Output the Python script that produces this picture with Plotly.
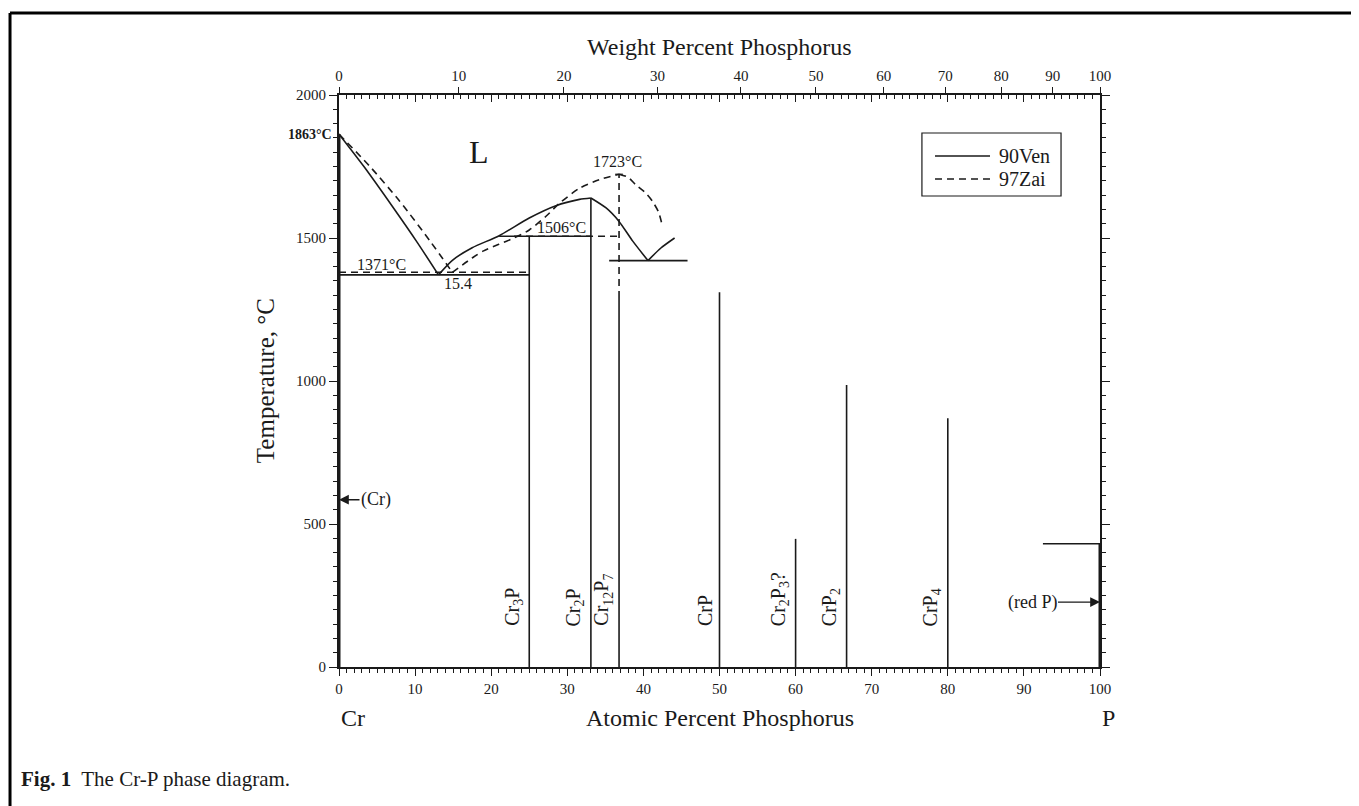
import plotly.graph_objects as go

# ---------------- data ----------------
MW_P, MW_CR = 30.974, 51.996
wt_ticks = [0, 10, 20, 30, 40, 50, 60, 70, 80, 90, 100]

# 90Ven (solid)
liq_cr_90_x = [0, 3.3, 7.0, 10.3, 13.07]
liq_cr_90_T = [1863, 1749, 1611, 1484, 1371]
liq_mid_90_x = [13.07, 14.9, 17.5, 21.05, 25, 28.5, 31.6, 33.1]
liq_mid_90_T = [1371, 1422, 1466, 1508, 1570, 1613, 1635, 1640]
liq_desc_90_x = [33.1, 35.1, 36.8, 38.6, 40.6]
liq_desc_90_T = [1640, 1605, 1558, 1489, 1421]
liq_rise_90_x = [40.6, 42.3, 44.1]
liq_rise_90_T = [1421, 1465, 1500]

# 97Zai (dashed)
liq_cr_97_x = [0, 4.0, 8.0, 12.0, 14.9]
liq_cr_97_T = [1863, 1752, 1628, 1488, 1380]
liq_mid_97_x = [14.9, 17.5, 19, 21, 23, 25, 27.2, 29, 31.6, 34.2, 36.8]
liq_mid_97_T = [1380, 1430, 1455, 1478, 1500, 1528, 1576, 1622, 1674, 1704, 1723]
liq_desc_97_x = [36.8, 38.0, 39.0, 40.2, 41.2, 42.0, 42.5]
liq_desc_97_T = [1723, 1712, 1686, 1660, 1628, 1590, 1541]

# invariant horizontals
eut1_90_x, eut1_90_T = [0, 25], 1371
eut1_97_x, eut1_97_T = [0, 25], 1380
per_90_x, per_90_T = [21.05, 33.1], 1506
per_97_x, per_97_T = [23, 36.8], 1506
eut2_90_x, eut2_90_T = [35.5, 45.8], 1421
redP_x, redP_T = [92.5, 100], 431
cong_97_x, cong_97_T = [36.3, 37.3], 1723

# compounds
comp_x = [25, 33.1, 36.8, 50, 60, 66.7, 80]
comp_top = [1506, 1640, 1290, 1310, 448, 986, 870]
comp_labels = ["Cr<sub>3</sub>P", "Cr<sub>2</sub>P", "Cr<sub>12</sub>P<sub>7</sub>", "CrP",
               "Cr<sub>2</sub>P<sub>3</sub>?", "CrP<sub>2</sub>", "CrP<sub>4</sub>"]
cr12p7_dash_T = [1290, 1723]
cr_melt = 1863
legend_names = ["90Ven", "97Zai"]


def wt_to_at(w):
    a = w / MW_P
    b = (100 - w) / MW_CR
    return 100 * a / (a + b)


FONT = "Liberation Serif"
BLACK = "#1a1a1a"
DASH = "7px,5px"

fig = go.Figure()


def add_line(x, y, dash=None, width=1.6, spline=False):
    fig.add_trace(go.Scatter(
        x=x, y=y, mode="lines",
        line=dict(color=BLACK, width=width, dash=dash or "solid",
                  shape="spline" if spline else "linear", smoothing=0.7),
        hoverinfo="skip", showlegend=False,
    ))


add_line(liq_cr_90_x, liq_cr_90_T, spline=True)
add_line(liq_cr_97_x, liq_cr_97_T, dash=DASH, spline=True)
add_line(liq_mid_90_x, liq_mid_90_T, spline=True)
add_line(liq_desc_90_x, liq_desc_90_T, spline=True)
add_line(liq_rise_90_x, liq_rise_90_T, spline=True)
add_line(liq_mid_97_x, liq_mid_97_T, dash=DASH, spline=True)
add_line(liq_desc_97_x, liq_desc_97_T, dash=DASH, spline=True)

add_line(eut1_97_x, [eut1_97_T] * 2, dash=DASH)
add_line(eut1_90_x, [eut1_90_T] * 2)
add_line(per_97_x, [per_97_T] * 2, dash=DASH)
add_line(per_90_x, [per_90_T] * 2)
add_line(eut2_90_x, [eut2_90_T] * 2)
add_line(redP_x, [redP_T] * 2)
add_line(cong_97_x, [cong_97_T] * 2, width=1.2)

for cx, ct in zip(comp_x, comp_top):
    add_line([cx, cx], [0, ct])
add_line([comp_x[2], comp_x[2]], cr12p7_dash_T, dash=DASH)

# pure elements
add_line([0, 0], [0, cr_melt], width=3)
add_line([100, 100], [0, redP_T], width=3)

# invisible traces for top axes
for ax in ["x2", "x3"]:
    fig.add_trace(go.Scatter(x=[0, 100], y=[0, 0], xaxis=ax, mode="markers",
                             marker=dict(opacity=0), hoverinfo="skip", showlegend=False))

ann = []
for cx, lab in zip(comp_x, comp_labels):
    ann.append(dict(x=cx, y=136, text=lab, textangle=-90, showarrow=False,
                    xanchor="right", yanchor="bottom", xshift=-2,
                    font=dict(family=FONT, size=20, color=BLACK)))


def ptxt(x, y, text, size, xanchor="center", **kw):
    d = dict(x=x, y=y, xref="paper", yref="paper", text=text, showarrow=False,
             xanchor=xanchor, yanchor="middle",
             font=dict(family=FONT, size=size, color=BLACK))
    d.update(kw)
    return d


ann += [
    dict(x=0, y=cr_melt, text="<b>1863°C</b>", showarrow=False, xanchor="right",
         yanchor="middle", xshift=-5, font=dict(family=FONT, size=14, color=BLACK)),
    dict(x=18.4, y=1800, text="L", showarrow=False, yanchor="middle",
         font=dict(family=FONT, size=32, color=BLACK)),
    dict(x=36.6, y=1767, text="1723°C", showarrow=False, yanchor="middle",
         font=dict(family=FONT, size=16, color=BLACK)),
    dict(x=29.2, y=1537, text="1506°C", showarrow=False, yanchor="middle",
         font=dict(family=FONT, size=16, color=BLACK)),
    dict(x=5.6, y=1408, text="1371°C", showarrow=False, yanchor="middle",
         font=dict(family=FONT, size=16, color=BLACK)),
    dict(x=15.7, y=1340, text="15.4", showarrow=False, yanchor="middle",
         font=dict(family=FONT, size=16, color=BLACK)),
    dict(x=0, y=585, text="(Cr)", showarrow=True, ax=37, ay=0,
         arrowhead=2, arrowsize=1.4, arrowwidth=1.4, arrowcolor=BLACK,
         font=dict(family=FONT, size=18, color=BLACK)),
    dict(x=100, y=227, text="(red P)", showarrow=True, ax=-68, ay=0,
         arrowhead=2, arrowsize=1.4, arrowwidth=1.4, arrowcolor=BLACK,
         font=dict(family=FONT, size=18, color=BLACK)),
    dict(x=0, y=-0.089, yref="paper", text="Cr", showarrow=False, xanchor="left",
         yanchor="middle", font=dict(family=FONT, size=24, color=BLACK)),
    dict(x=100, y=-0.089, yref="paper", text="P", showarrow=False, xanchor="left",
         yanchor="middle", font=dict(family=FONT, size=24, color=BLACK)),
    dict(x=50, y=-0.089, yref="paper", text="Atomic Percent Phosphorus", showarrow=False,
         yanchor="middle", font=dict(family=FONT, size=24, color=BLACK)),
    dict(x=50, y=1.084, yref="paper", text="Weight Percent Phosphorus", showarrow=False,
         yanchor="middle", font=dict(family=FONT, size=24, color=BLACK)),
    ptxt(-0.097, 0.5, "Temperature, °C", 25, textangle=-90),
    ptxt(-0.4205, -0.196, "<b>Fig. 1</b>  The Cr-P phase diagram.", 21, xanchor="left"),
    # legend texts
    ptxt(0.8647, 0.8934, legend_names[0], 20, xanchor="left"),
    ptxt(0.8647, 0.8531, legend_names[1], 20, xanchor="left"),
]

tickfont = dict(family=FONT, size=15, color=BLACK)

shapes = [
    # frame
    dict(type="line", xref="paper", yref="paper", x0=-0.4323, x1=1.36,
         y0=1.1434, y1=1.1434, line=dict(color="black", width=3)),
    dict(type="line", xref="paper", yref="paper", x0=-0.4323, x1=-0.4323,
         y0=1.1434, y1=-0.25, line=dict(color="black", width=3)),
    # legend box and samples
    dict(type="rect", xref="paper", yref="paper", x0=0.766, x1=0.9488,
         y0=0.8234, y1=0.9336, line=dict(color=BLACK, width=1.2), fillcolor="white"),
    dict(type="line", xref="paper", yref="paper", x0=0.7832, x1=0.8555,
         y0=0.8934, y1=0.8934, line=dict(color=BLACK, width=1.6)),
    dict(type="line", xref="paper", yref="paper", x0=0.7832, x1=0.8555,
         y0=0.8531, y1=0.8531, line=dict(color=BLACK, width=1.6, dash=DASH)),
]

fig.update_layout(
    width=1359, height=806,
    margin=dict(l=331, r=267, t=87, b=147),
    paper_bgcolor="white", plot_bgcolor="white",
    annotations=ann, shapes=shapes,
    showlegend=False,
    xaxis=dict(range=[0, 100], dtick=10, ticks="outside", ticklen=7, tickwidth=1.2,
               tickcolor=BLACK, showline=True, linecolor=BLACK, linewidth=2,
               showgrid=False, zeroline=False, tickfont=tickfont,
               minor=dict(dtick=1, ticks="outside", ticklen=4, tickcolor=BLACK)),
    xaxis2=dict(range=[0, 100], overlaying="x", side="top", anchor="y",
                tickmode="array", tickvals=[wt_to_at(w) for w in wt_ticks],
                ticktext=[str(w) for w in wt_ticks], ticks="outside", ticklen=7,
                tickcolor=BLACK, showline=False, showgrid=False, zeroline=False,
                tickfont=tickfont),
    xaxis3=dict(range=[0, 100], overlaying="x", side="top", anchor="y",
                dtick=10, ticks="inside", ticklen=7, tickcolor=BLACK,
                showticklabels=False, showline=True, linecolor=BLACK, linewidth=1.5,
                showgrid=False, zeroline=False,
                minor=dict(dtick=1, ticks="inside", ticklen=4, tickcolor=BLACK)),
    yaxis=dict(range=[0, 2000], dtick=500, ticks="outside", ticklen=8, tickwidth=1.2,
               tickcolor=BLACK, showline=True, linecolor=BLACK, linewidth=2,
               mirror="ticks", showgrid=False, zeroline=False, tickfont=tickfont,
               minor=dict(dtick=50, ticks="outside", ticklen=4, tickcolor=BLACK)),
)

fig.write_html("out.html")
